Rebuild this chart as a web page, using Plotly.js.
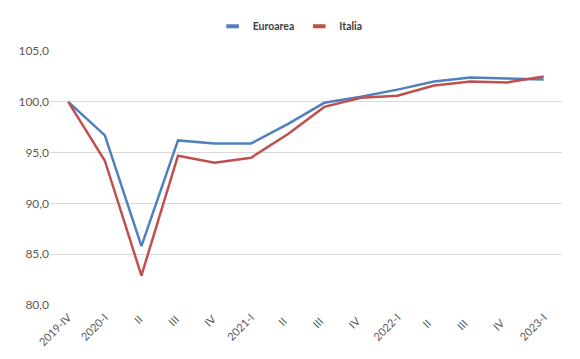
<!DOCTYPE html>
<html>
<head>
<meta charset="utf-8">
<script src="https://cdn.plot.ly/plotly-3.0.1.min.js"></script>
<style>html,body{margin:0;padding:0;background:#fff;}#chart{width:580px;height:359px;}</style>
</head>
<body>
<div id="chart"></div>
<script>
const categories = ["2019-IV","2020-I","II ","III ","IV ","2021-I","II  ","III  ","IV  ","2022-I","II   ","III   ","IV   ","2023-I"];
const euroarea = [100.0, 96.7, 85.8, 96.2, 95.9, 95.9, 97.8, 99.9, 100.5, 101.2, 102.0, 102.4, 102.3, 102.2];
const italia   = [100.0, 94.2, 82.9, 94.7, 94.0, 94.5, 96.8, 99.5, 100.4, 100.6, 101.6, 102.0, 101.9, 102.5];
const seriesNames = ["Euroarea", "Italia"];
const seriesColors = ["#4F81BD", "#C0504D"];

const traces = [
  {x: categories, y: euroarea, name: seriesNames[0], type: "scatter", mode: "lines",
   showlegend: false, line: {color: seriesColors[0], width: 2.5}},
  {x: categories, y: italia, name: seriesNames[1], type: "scatter", mode: "lines",
   showlegend: false, line: {color: seriesColors[1], width: 2.5}}
];
// legend entries with short thick swatches, as in the reference
seriesNames.forEach((n, i) => {
  traces.push({x: [null], y: [null], name: n, type: "scatter", mode: "markers",
    showlegend: true, hoverinfo: "skip",
    marker: {symbol: "line-ew", size: 9, line: {color: seriesColors[i], width: 4}}});
});

const layout = {
  width: 580, height: 359,
  margin: {l: 50, r: 18, t: 46, b: 54},
  paper_bgcolor: "#fff", plot_bgcolor: "#fff",
  separators: ",.",
  font: {family: "Lato, 'Liberation Sans', sans-serif", size: 12, color: "#595959"},
  showlegend: true,
  legend: {orientation: "h", x: 0.469, xanchor: "center", y: 1.155, yanchor: "top",
           font: {size: 10.5, color: "#404040", family: "Lato, sans-serif", weight: "bold"},
           itemwidth: 30, tracegroupgap: 0},
  xaxis: {type: "category", range: [-0.5, categories.length - 0.5], tickangle: -45,
          showgrid: false, zeroline: false, showline: false, ticks: "",
          ticklabelstandoff: 3,
          tickfont: {size: 11, color: "#595959"}},
  yaxis: {range: [80, 105], dtick: 5, tickformat: ".1f", showgrid: true,
          gridcolor: "#D9D9D9", gridwidth: 1, zeroline: false, showline: false,
          ticks: "", tickfont: {size: 12, color: "#595959"}}
};

Plotly.newPlot("chart", traces, layout, {displayModeBar: false, staticPlot: true});
</script>
</body>
</html>
